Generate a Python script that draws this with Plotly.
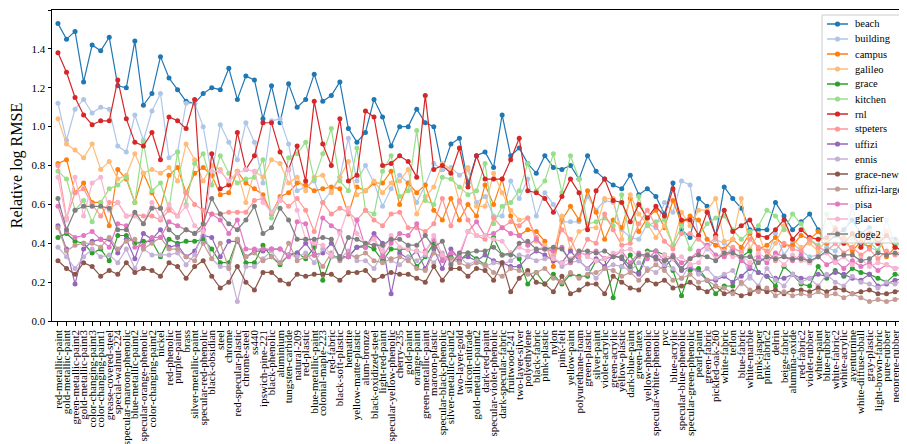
import plotly.graph_objects as go

materials = [
    "red-metallic-paint", "gold-metallic-paint", "green-metallic-paint2", "gold-metallic-paint3",
    "color-changing-paint3", "color-changing-paint1", "grease-covered-steel", "special-walnut-224",
    "specular-maroon-phenolic", "blue-metallic-paint2", "specular-orange-phenolic", "color-changing-paint2",
    "nickel", "red-phenolic", "purple-paint", "brass", "silver-metallic-paint", "specular-red-phenolic",
    "black-obsidian", "steel", "chrome", "red-specular-plastic", "chrome-steel", "ss440",
    "ipswich-pine-221", "black-phenolic", "aluminium", "tungsten-carbide", "natural-209", "red-plastic",
    "blue-metallic-paint", "colonial-maple-223", "red-fabric", "black-soft-plastic", "hematite",
    "yellow-matte-plastic", "alum-bronze", "black-oxidized-steel", "light-red-paint",
    "specular-yellow-phenolic", "cherry-235", "gold-paint", "orange-paint", "green-metallic-paint",
    "maroon-plastic", "specular-black-phenolic", "silver-metallic-paint2", "two-layer-gold",
    "silicon-nitrade", "gold-metallic-paint2", "dark-red-paint", "specular-violet-phenolic",
    "dark-specular-fabric", "fruitwood-241", "two-layer-silver", "polyethylene", "black-fabric",
    "pink-plastic", "nylon", "pink-felt", "yellow-paint", "polyurethane-foam", "green-plastic",
    "silver-paint", "violet-acrylic", "green-acrylic", "yellow-plastic", "dark-blue-paint",
    "green-latex", "yellow-phenolic", "specular-white-phenolic", "pvc", "blue-acrylic",
    "specular-blue-phenolic", "specular-green-phenolic", "pearl-paint", "green-fabric",
    "pickled-oak-260", "white-fabric", "teflon", "blue-fabric", "white-marble", "pink-jasper",
    "pink-fabric2", "delrin", "beige-fabric", "alumina-oxide", "red-fabric2", "violet-rubber",
    "white-paint", "blue-rubber", "white-fabric2", "white-acrylic", "aventurnine",
    "white-diffuse-bball", "gray-plastic", "light-brown-fabric", "pure-rubber", "neoprene-rubber",
    "pink-fabric",
]

beach = [1.53, 1.45, 1.49, 1.23, 1.42, 1.39, 1.46, 1.21, 1.20, 1.44, 1.11, 1.17, 1.36, 1.25, 1.19, 1.13, 1.12, 1.17, 1.20, 1.19, 1.30, 1.14, 1.26, 1.24, 1.04,
         1.21, 1.02, 1.22, 1.10, 1.14, 1.27, 1.13, 1.16, 1.23, 0.99, 0.92, 0.97, 1.14, 1.05, 0.90, 1.00, 1.00, 1.09, 1.02, 1.00, 0.78, 0.91, 0.94, 0.71, 0.85,
         0.87, 0.79, 1.06, 0.85, 0.89, 0.81, 0.76, 0.85, 0.79, 0.78, 0.80, 0.73, 0.85, 0.77, 0.73, 0.70, 0.68, 0.75, 0.65, 0.68, 0.64, 0.55, 0.71, 0.47, 0.43,
         0.63, 0.59, 0.44, 0.69, 0.63, 0.58, 0.47, 0.47, 0.47, 0.61, 0.54, 0.47, 0.51, 0.55, 0.47, 0.40, 0.44, 0.47, 0.52, 0.45, 0.48, 0.40, 0.44, 0.42, 0.38]
building = [1.12, 0.93, 1.09, 1.14, 1.07, 1.10, 1.09, 0.90, 0.87, 1.06, 0.93, 1.08, 1.17, 0.84, 0.87, 1.12, 1.12, 1.00, 0.75, 1.01, 0.92, 0.83, 1.02, 0.92, 0.71,
            1.03, 1.04, 0.91, 0.67, 0.69, 0.72, 0.61, 0.67, 0.74, 0.94, 0.72, 0.80, 0.71, 0.59, 0.68, 0.75, 0.71, 0.61, 0.70, 0.81, 0.78, 0.79, 0.75, 0.78, 0.61,
            0.64, 0.54, 0.54, 0.72, 0.63, 0.73, 0.54, 0.66, 0.60, 0.51, 0.51, 0.51, 0.64, 0.57, 0.62, 0.61, 0.47, 0.43, 0.42, 0.50, 0.48, 0.61, 0.56, 0.72, 0.70,
            0.43, 0.37, 0.42, 0.40, 0.37, 0.36, 0.22, 0.31, 0.33, 0.45, 0.34, 0.40, 0.36, 0.33, 0.34, 0.38, 0.36, 0.42, 0.59, 0.40, 0.38, 0.36, 0.52, 0.40, 0.45]
campus = [0.81, 0.83, 0.66, 0.71, 0.61, 0.61, 0.49, 0.78, 0.73, 0.61, 0.76, 0.66, 0.58, 0.75, 0.79, 0.66, 0.76, 0.79, 0.75, 0.65, 0.66, 0.77, 0.71, 0.68, 0.65,
          0.55, 0.64, 0.66, 0.71, 0.70, 0.67, 0.68, 0.69, 0.68, 0.55, 0.69, 0.67, 0.71, 0.71, 0.77, 0.60, 0.71, 0.66, 0.70, 0.57, 0.52, 0.63, 0.52, 0.60, 0.54,
          0.70, 0.60, 0.73, 0.54, 0.44, 0.47, 0.46, 0.41, 0.28, 0.52, 0.59, 0.52, 0.67, 0.56, 0.42, 0.52, 0.48, 0.63, 0.46, 0.53, 0.57, 0.48, 0.62, 0.50, 0.54,
          0.52, 0.42, 0.39, 0.37, 0.42, 0.38, 0.45, 0.37, 0.39, 0.43, 0.39, 0.39, 0.44, 0.42, 0.46, 0.40, 0.48, 0.43, 0.36, 0.41, 0.38, 0.44, 0.33, 0.38, 0.36]
galileo = [1.04, 0.91, 0.88, 0.84, 0.91, 0.78, 0.82, 0.73, 0.75, 0.86, 0.76, 0.78, 0.76, 0.79, 0.72, 0.91, 0.83, 0.72, 0.80, 0.78, 0.71, 0.77, 0.61, 0.77, 0.74,
           0.83, 0.81, 0.71, 0.74, 0.67, 0.74, 0.75, 0.66, 0.74, 0.82, 0.65, 0.67, 0.72, 0.66, 0.71, 0.72, 0.78, 0.55, 0.64, 0.69, 0.81, 0.78, 0.61, 0.79, 0.59,
           0.59, 0.76, 0.66, 0.57, 0.52, 0.53, 0.41, 0.39, 0.34, 0.54, 0.37, 0.46, 0.48, 0.48, 0.63, 0.63, 0.42, 0.65, 0.55, 0.50, 0.43, 0.49, 0.39, 0.56, 0.49,
           0.57, 0.57, 0.63, 0.41, 0.42, 0.63, 0.37, 0.45, 0.33, 0.40, 0.49, 0.42, 0.38, 0.40, 0.36, 0.42, 0.45, 0.40, 0.38, 0.43, 0.46, 0.41, 0.46, 0.39, 0.45]
grace = [0.43, 0.45, 0.41, 0.40, 0.35, 0.37, 0.31, 0.44, 0.44, 0.40, 0.41, 0.41, 0.33, 0.42, 0.40, 0.41, 0.41, 0.42, 0.37, 0.30, 0.30, 0.42, 0.30, 0.30, 0.39,
         0.33, 0.29, 0.34, 0.35, 0.32, 0.38, 0.21, 0.33, 0.33, 0.33, 0.38, 0.39, 0.37, 0.31, 0.37, 0.37, 0.37, 0.28, 0.33, 0.40, 0.33, 0.33, 0.31, 0.35, 0.32,
         0.29, 0.43, 0.34, 0.35, 0.32, 0.19, 0.25, 0.19, 0.24, 0.19, 0.24, 0.23, 0.23, 0.31, 0.32, 0.12, 0.28, 0.34, 0.25, 0.36, 0.36, 0.34, 0.26, 0.13, 0.26,
         0.27, 0.21, 0.14, 0.18, 0.18, 0.33, 0.36, 0.25, 0.23, 0.18, 0.28, 0.24, 0.19, 0.18, 0.28, 0.22, 0.26, 0.23, 0.27, 0.25, 0.24, 0.22, 0.20, 0.24, 0.23]
kitchen = [0.77, 0.73, 0.57, 0.62, 0.51, 0.61, 0.68, 0.70, 0.74, 0.61, 0.92, 0.67, 0.71, 0.58, 0.87, 0.60, 0.81, 0.86, 0.70, 0.85, 0.76, 0.71, 0.73, 0.74, 0.83,
           0.53, 0.62, 0.84, 0.86, 0.92, 0.73, 0.86, 0.99, 0.72, 0.67, 0.89, 0.57, 0.55, 0.77, 0.85, 0.64, 0.67, 0.98, 0.62, 0.60, 0.74, 0.73, 0.69, 0.65, 0.67,
           0.81, 0.50, 0.59, 0.61, 0.67, 0.81, 0.67, 0.72, 0.86, 0.66, 0.85, 0.73, 0.50, 0.51, 0.53, 0.49, 0.65, 0.42, 0.64, 0.49, 0.51, 0.52, 0.39, 0.49, 0.37,
           0.44, 0.50, 0.53, 0.54, 0.47, 0.42, 0.46, 0.49, 0.57, 0.54, 0.47, 0.55, 0.50, 0.42, 0.39, 0.55, 0.46, 0.40, 0.43, 0.38, 0.41, 0.36, 0.44, 0.40, 0.38]
rnl = [1.38, 1.28, 1.15, 1.06, 1.01, 1.03, 1.03, 1.24, 1.04, 0.92, 0.90, 0.97, 0.83, 1.05, 1.03, 0.99, 1.14, 0.47, 0.86, 0.68, 0.70, 0.97, 0.78, 0.85, 1.02,
       1.02, 0.87, 0.78, 0.90, 0.72, 1.13, 0.91, 0.80, 1.04, 0.72, 0.75, 1.08, 1.05, 0.80, 0.81, 0.85, 0.82, 0.74, 1.16, 0.78, 0.80, 0.76, 0.89, 0.69, 0.85,
       0.73, 0.73, 0.73, 0.83, 0.94, 0.67, 0.66, 0.63, 0.56, 0.64, 0.73, 0.66, 0.47, 0.67, 0.73, 0.62, 0.61, 0.51, 0.60, 0.53, 0.59, 0.54, 0.68, 0.52, 0.52,
       0.44, 0.56, 0.44, 0.57, 0.46, 0.49, 0.52, 0.44, 0.43, 0.47, 0.52, 0.42, 0.47, 0.43, 0.42, 0.43, 0.47, 0.40, 0.45, 0.38, 0.45, 0.40, 0.44, 0.38, 0.36]
stpeters = [0.80, 0.53, 0.66, 0.68, 0.60, 0.54, 0.61, 0.61, 0.54, 0.55, 0.54, 0.54, 0.52, 0.57, 0.54, 0.66, 0.60, 0.57, 0.55, 0.55, 0.56, 0.56, 0.56, 0.62, 0.63,
            0.56, 0.63, 0.59, 0.63, 0.57, 0.46, 0.61, 0.55, 0.58, 0.56, 0.52, 0.57, 0.52, 0.49, 0.55, 0.56, 0.48, 0.48, 0.46, 0.50, 0.63, 0.49, 0.62, 0.52, 0.44,
            0.42, 0.53, 0.48, 0.51, 0.49, 0.53, 0.43, 0.37, 0.37, 0.47, 0.42, 0.33, 0.42, 0.40, 0.55, 0.47, 0.39, 0.40, 0.50, 0.57, 0.49, 0.41, 0.37, 0.45, 0.45,
            0.42, 0.39, 0.43, 0.33, 0.38, 0.35, 0.42, 0.38, 0.36, 0.31, 0.40, 0.37, 0.36, 0.42, 0.38, 0.36, 0.40, 0.35, 0.38, 0.34, 0.37, 0.32, 0.36, 0.34, 0.37]
uffizi = [0.49, 0.37, 0.19, 0.37, 0.41, 0.42, 0.42, 0.35, 0.42, 0.32, 0.45, 0.42, 0.47, 0.38, 0.39, 0.33, 0.36, 0.44, 0.43, 0.33, 0.41, 0.41, 0.33, 0.36, 0.36,
          0.37, 0.37, 0.34, 0.35, 0.40, 0.34, 0.35, 0.40, 0.33, 0.33, 0.38, 0.38, 0.45, 0.40, 0.14, 0.35, 0.32, 0.36, 0.27, 0.37, 0.27, 0.37, 0.32, 0.33, 0.31,
          0.34, 0.31, 0.30, 0.28, 0.28, 0.33, 0.36, 0.34, 0.31, 0.30, 0.36, 0.31, 0.27, 0.32, 0.28, 0.34, 0.32, 0.26, 0.24, 0.34, 0.33, 0.28, 0.32, 0.26, 0.28,
          0.25, 0.21, 0.21, 0.23, 0.20, 0.23, 0.27, 0.25, 0.23, 0.22, 0.22, 0.24, 0.22, 0.22, 0.24, 0.23, 0.25, 0.24, 0.22, 0.21, 0.24, 0.18, 0.19, 0.21, 0.22]
ennis = [0.38, 0.33, 0.27, 0.33, 0.37, 0.33, 0.34, 0.30, 0.37, 0.27, 0.37, 0.34, 0.34, 0.34, 0.35, 0.29, 0.34, 0.47, 0.32, 0.28, 0.28, 0.10, 0.28, 0.28, 0.32,
         0.36, 0.30, 0.34, 0.33, 0.35, 0.30, 0.37, 0.33, 0.32, 0.36, 0.31, 0.31, 0.27, 0.35, 0.31, 0.29, 0.33, 0.31, 0.34, 0.30, 0.35, 0.30, 0.33, 0.29, 0.31,
         0.28, 0.30, 0.29, 0.31, 0.34, 0.33, 0.31, 0.32, 0.33, 0.28, 0.30, 0.31, 0.27, 0.22, 0.27, 0.29, 0.28, 0.26, 0.30, 0.27, 0.25, 0.29, 0.27, 0.22, 0.29,
         0.24, 0.27, 0.22, 0.24, 0.26, 0.19, 0.23, 0.18, 0.27, 0.21, 0.18, 0.24, 0.20, 0.22, 0.18, 0.24, 0.20, 0.18, 0.23, 0.20, 0.19, 0.17, 0.20, 0.19, 0.21]
grace_new = [0.31, 0.27, 0.24, 0.30, 0.28, 0.23, 0.26, 0.24, 0.30, 0.25, 0.27, 0.26, 0.23, 0.30, 0.28, 0.22, 0.28, 0.31, 0.23, 0.17, 0.20, 0.28, 0.20, 0.16, 0.25,
             0.25, 0.21, 0.19, 0.24, 0.23, 0.24, 0.24, 0.24, 0.21, 0.25, 0.25, 0.26, 0.21, 0.23, 0.25, 0.24, 0.24, 0.22, 0.20, 0.28, 0.21, 0.27, 0.27, 0.23, 0.27,
             0.26, 0.21, 0.30, 0.15, 0.22, 0.26, 0.20, 0.19, 0.15, 0.23, 0.14, 0.16, 0.19, 0.19, 0.14, 0.23, 0.20, 0.17, 0.16, 0.21, 0.19, 0.21, 0.17, 0.18, 0.20,
             0.17, 0.15, 0.18, 0.14, 0.15, 0.13, 0.14, 0.17, 0.15, 0.16, 0.14, 0.16, 0.16, 0.15, 0.17, 0.15, 0.17, 0.16, 0.14, 0.15, 0.16, 0.14, 0.14, 0.15, 0.16]
uffizi_large = [0.48, 0.36, 0.39, 0.40, 0.40, 0.38, 0.43, 0.37, 0.41, 0.42, 0.37, 0.40, 0.43, 0.37, 0.37, 0.33, 0.31, 0.40, 0.32, 0.40, 0.27, 0.42, 0.33, 0.35, 0.31,
                0.33, 0.30, 0.40, 0.31, 0.33, 0.34, 0.28, 0.35, 0.31, 0.34, 0.33, 0.35, 0.31, 0.30, 0.32, 0.33, 0.31, 0.27, 0.26, 0.35, 0.33, 0.32, 0.30, 0.28, 0.30,
                0.29, 0.25, 0.23, 0.27, 0.26, 0.24, 0.25, 0.27, 0.22, 0.20, 0.25, 0.22, 0.24, 0.25, 0.27, 0.26, 0.23, 0.25, 0.21, 0.26, 0.29, 0.26, 0.21, 0.22, 0.24,
                0.20, 0.21, 0.18, 0.17, 0.14, 0.20, 0.16, 0.15, 0.17, 0.13, 0.15, 0.13, 0.14, 0.13, 0.15, 0.13, 0.14, 0.12, 0.14, 0.12, 0.10, 0.11, 0.10, 0.11, 0.12]
pisa = [0.59, 0.46, 0.43, 0.44, 0.46, 0.42, 0.38, 0.50, 0.49, 0.38, 0.39, 0.43, 0.43, 0.51, 0.49, 0.47, 0.45, 0.47, 0.55, 0.52, 0.45, 0.52, 0.37, 0.37, 0.37,
        0.37, 0.37, 0.33, 0.51, 0.50, 0.34, 0.53, 0.49, 0.46, 0.33, 0.52, 0.38, 0.43, 0.33, 0.40, 0.45, 0.44, 0.50, 0.36, 0.42, 0.31, 0.35, 0.33, 0.46, 0.51,
        0.44, 0.45, 0.48, 0.45, 0.44, 0.39, 0.42, 0.37, 0.36, 0.38, 0.30, 0.35, 0.34, 0.36, 0.32, 0.33, 0.36, 0.30, 0.35, 0.32, 0.36, 0.31, 0.34, 0.30, 0.32,
        0.36, 0.39, 0.34, 0.33, 0.36, 0.31, 0.28, 0.33, 0.30, 0.35, 0.33, 0.31, 0.34, 0.30, 0.33, 0.29, 0.31, 0.27, 0.31, 0.28, 0.30, 0.26, 0.29, 0.27, 0.28]
glacier = [0.74, 0.52, 0.74, 0.54, 0.71, 0.74, 0.57, 0.61, 0.54, 0.54, 0.50, 0.61, 0.53, 0.60, 0.54, 0.59, 0.49, 0.46, 0.77, 0.77, 0.72, 0.76, 0.78, 0.77, 0.61,
           0.56, 0.62, 0.78, 0.57, 0.42, 0.40, 0.39, 0.34, 0.45, 0.58, 0.45, 0.40, 0.42, 0.36, 0.44, 0.38, 0.37, 0.36, 0.35, 0.44, 0.34, 0.30, 0.35, 0.46, 0.44,
           0.44, 0.42, 0.41, 0.35, 0.38, 0.36, 0.37, 0.38, 0.32, 0.30, 0.32, 0.36, 0.33, 0.31, 0.32, 0.35, 0.36, 0.37, 0.33, 0.35, 0.31, 0.34, 0.32, 0.33, 0.29,
           0.30, 0.38, 0.32, 0.36, 0.33, 0.34, 0.30, 0.35, 0.32, 0.33, 0.29, 0.34, 0.31, 0.30, 0.33, 0.35, 0.30, 0.33, 0.29, 0.32, 0.28, 0.30, 0.29, 0.27, 0.28]
doge2 = [0.63, 0.47, 0.57, 0.59, 0.59, 0.59, 0.58, 0.47, 0.47, 0.56, 0.50, 0.58, 0.58, 0.47, 0.43, 0.47, 0.45, 0.50, 0.63, 0.55, 0.50, 0.47, 0.52, 0.59, 0.45,
         0.48, 0.58, 0.52, 0.42, 0.42, 0.42, 0.43, 0.42, 0.32, 0.43, 0.42, 0.40, 0.39, 0.39, 0.42, 0.42, 0.39, 0.39, 0.44, 0.38, 0.41, 0.29, 0.35, 0.35, 0.36,
         0.36, 0.38, 0.34, 0.34, 0.40, 0.41, 0.37, 0.37, 0.38, 0.37, 0.31, 0.36, 0.36, 0.35, 0.36, 0.33, 0.33, 0.28, 0.34, 0.34, 0.32, 0.31, 0.33, 0.27, 0.32,
         0.34, 0.33, 0.31, 0.35, 0.35, 0.33, 0.33, 0.30, 0.33, 0.32, 0.33, 0.32, 0.32, 0.31, 0.33, 0.36, 0.33, 0.34, 0.34, 0.31, 0.32, 0.35, 0.34, 0.35, 0.33]

series_names = ["beach", "building", "campus", "galileo", "grace", "kitchen", "rnl", "stpeters",
                "uffizi", "ennis", "grace-new", "uffizi-large", "pisa", "glacier", "doge2"]
series_values = [beach, building, campus, galileo, grace, kitchen, rnl, stpeters,
                 uffizi, ennis, grace_new, uffizi_large, pisa, glacier, doge2]
colors = ["#1f77b4", "#aec7e8", "#ff7f0e", "#ffbb78", "#2ca02c", "#98df8a", "#d62728", "#ff9896",
          "#9467bd", "#c5b0d5", "#8c564b", "#c49c94", "#e377c2", "#f7b6d2", "#7f7f7f"]

FONT = "Liberation Serif"
OFF = 8  # the page body offsets the figure by 8 px
W, H = 907 - OFF, 444 - OFF
ML, MR, MT, MB = 52 - OFF, 0, 10 - OFF, 123
PW, PH = W - ML - MR, H - MT - MB


def px_to_paper(px, py):
    # px, py are page pixel positions
    return (px - OFF - ML) / PW, (H - MB - (py - OFF)) / PH


fig = go.Figure()
for name, vals, col in zip(series_names, series_values, colors):
    fig.add_trace(go.Scatter(
        x=materials, y=vals, name=name, mode="lines+markers",
        line=dict(color=col, width=1.2),
        marker=dict(color=col, size=5),
        showlegend=False,
    ))

# Legend box drawn in the matplotlib style (tight rows)
shapes = []
annotations = []
bx0, by0 = px_to_paper(822, 243)
bx1, by1 = px_to_paper(915, 15)
shapes.append(dict(type="rect", xref="paper", yref="paper", x0=bx0, y0=by0, x1=bx1, y1=by1,
                   fillcolor="rgba(255,255,255,0.8)", line=dict(color="#cccccc", width=1),
                   layer="above"))
row0, row_step = 24, 15.0
for k, (name, col) in enumerate(zip(series_names, colors)):
    ry = row0 + k * row_step
    lx0, ly = px_to_paper(827, ry)
    lx1, _ = px_to_paper(848, ry)
    mx, _ = px_to_paper(837.5, ry)
    tx, _ = px_to_paper(853, ry)
    shapes.append(dict(type="line", xref="paper", yref="paper", x0=lx0, x1=lx1, y0=ly, y1=ly,
                       line=dict(color=col, width=1.5), layer="above"))
    shapes.append(dict(type="circle", xref="paper", yref="paper",
                       xsizemode="pixel", ysizemode="pixel", xanchor=mx, yanchor=ly,
                       x0=-2.6, x1=2.6, y0=-2.6, y1=2.6,
                       fillcolor=col, line=dict(color=col, width=0), layer="above"))
    annotations.append(dict(xref="paper", yref="paper", x=tx, y=ly, text=name, showarrow=False,
                            xanchor="left", yanchor="middle",
                            font=dict(family=FONT, size=10.5, color="black")))

fig.update_layout(
    width=W, height=H,
    margin=dict(l=ML, r=MR, t=MT, b=MB),
    paper_bgcolor="white", plot_bgcolor="white",
    font=dict(family=FONT, color="black", size=11),
    showlegend=False,
    shapes=shapes,
    annotations=annotations,
)
fig.update_xaxes(
    type="category", range=[-0.7, 99.4],
    tickmode="array", tickvals=materials, ticktext=materials,
    showline=True, mirror=True, linecolor="black", linewidth=1,
    ticks="outside", ticklen=3.5, tickcolor="black",
    tickangle=-90, tickfont=dict(family=FONT, size=11),
    showgrid=False, zeroline=False, automargin=False,
)
fig.update_yaxes(
    range=[0, 1.6], dtick=0.2, tickformat=".1f",
    showline=True, mirror=True, linecolor="black", linewidth=1,
    ticks="outside", ticklen=3.5, tickcolor="black",
    tickfont=dict(family=FONT, size=11),
    showgrid=False, zeroline=False, automargin=False,
    title=dict(text="Relative log RMSE", font=dict(family=FONT, size=16), standoff=8),
)

fig.write_html("out.html")
